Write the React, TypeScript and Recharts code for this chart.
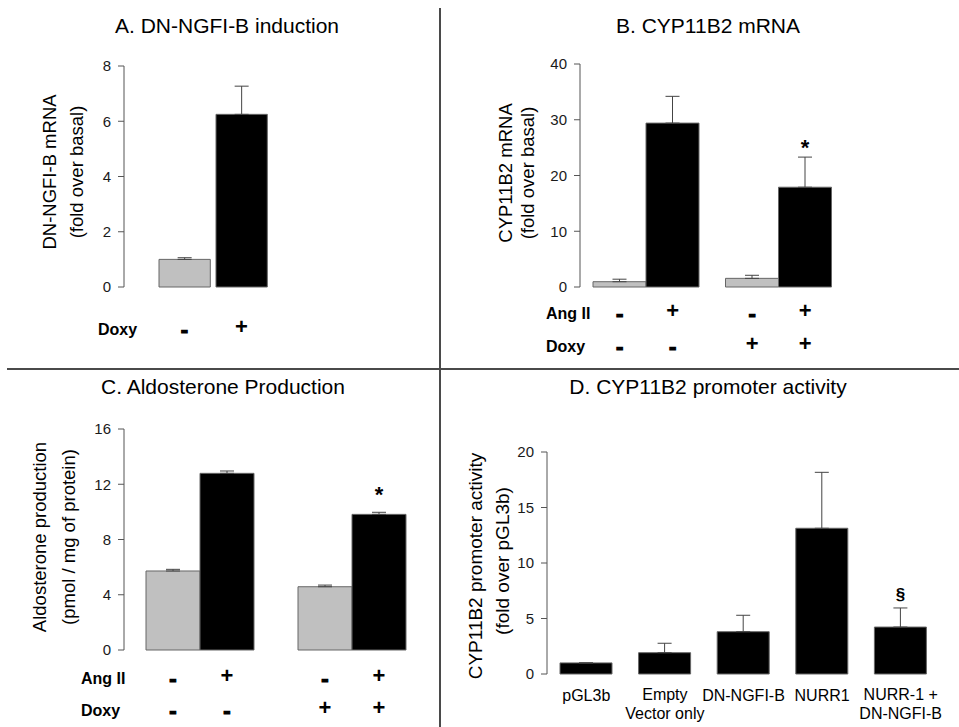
import { Bar, BarChart, Cell, ErrorBar, LabelList, XAxis, YAxis } from "recharts";

const FONT = "'Liberation Sans', Arial, Helvetica, sans-serif";
const GRAY = "#c0c0c0";
const AXIS = "#555";

// A. DN-NGFI-B induction
const doxyA = ["-", "+"];
const mrnaA = [1.0, 6.25];
const mrnaErrA = [0.06, 1.02];
const ticksA = [0, 2, 4, 6, 8];

// B. CYP11B2 mRNA  (bars in order: basal/AngII for Doxy -, then Doxy +)
const angRowB = ["-", "+", "-", "+"];
const doxyRowB = ["-", "-", "+", "+"];
const basalB = [0.95, 1.55];
const basalErrB = [0.45, 0.55];
const angIIB = [29.4, 17.9];
const angIIErrB = [4.8, 5.4];
const sigB = ["", "*"];
const ticksB = [0, 10, 20, 30, 40];

// C. Aldosterone production
const angRowC = ["-", "+", "-", "+"];
const doxyRowC = ["-", "-", "+", "+"];
const basalC = [5.72, 4.58];
const basalErrC = [0.12, 0.12];
const angIIC = [12.79, 9.82];
const angIIErrC = [0.17, 0.15];
const sigC = ["", "*"];
const ticksC = [0, 4, 8, 12, 16];

// D. CYP11B2 promoter activity
const constructsD = ["pGL3b", "Empty\nVector only", "DN-NGFI-B", "NURR1", "NURR-1 +\nDN-NGFI-B"];
const activityD = [1.0, 1.92, 3.81, 13.13, 4.23];
const activityErrD = [0, 0.85, 1.48, 5.04, 1.72];
const sigD = ["", "", "", "", "§"];
const ticksD = [0, 5, 10, 15, 20];

const dataA = doxyA.map((d, i) => ({ doxy: d, value: mrnaA[i], err: [0, mrnaErrA[i]] }));
const pairData = (basal: number[], basalErr: number[], ang: number[], angErr: number[]) =>
  basal.map((b, i) => ({
    group: "g" + i,
    basal: b,
    basalErr: [0, basalErr[i]],
    ang: ang[i],
    angErr: [0, angErr[i]],
  }));
const dataB = pairData(basalB, basalErrB, angIIB, angIIErrB);
const dataC = pairData(basalC, basalErrC, angIIC, angIIErrC);
const dataD = constructsD.map((n, i) => ({ name: n, value: activityD[i], err: [0, activityErrD[i]] }));

// the minus of the original is a thick short bar: bold hyphen with a thin outline
const Mark = ({ x, y, s }: { x: number; y: number; s: string }) => (
  <text
    x={x}
    y={y}
    dy={s === "-" ? 3 : 0}
    textAnchor="middle"
    dominantBaseline="central"
    fontFamily={FONT}
    fontWeight="bold"
    fontSize={22}
    fill="#000"
    stroke={s === "-" ? "#000" : "none"}
    strokeWidth={1.2}
  >
    {s}
  </text>
);

const RowLabel = ({ x, y, text }: { x: number; y: number; text: string }) => (
  <text x={x} y={y} dominantBaseline="central" fontFamily={FONT} fontWeight="bold" fontSize={16} fill="#000">
    {text}
  </text>
);

const Title = ({ x, y, text }: { x: number; y: number; text: string }) => (
  <text x={x} y={y} textAnchor="middle" fontFamily={FONT} fontSize={21} fill="#000">
    {text}
  </text>
);

const YLabel = ({ x, y, text, size = 18.5 }: { x: number; y: number; text: string; size?: number }) => (
  <text
    transform={`translate(${x},${y}) rotate(-90)`}
    textAnchor="middle"
    dominantBaseline="central"
    fontFamily={FONT}
    fontSize={size}
    fill="#000"
  >
    {text}
  </text>
);

const pairTick = (ang: string[], doxy: string[], half: number, row1: number, row2: number) => (props: any) => {
  const { x, y, payload } = props;
  const i = props.index ?? payload.index;
  return (
    <g>
      {[0, 1].map((k) => {
        const cx = x + (k === 0 ? -half : half);
        return (
          <g key={k}>
            <Mark x={cx} y={y + row1} s={ang[i * 2 + k]} />
            <Mark x={cx} y={y + row2} s={doxy[i * 2 + k]} />
          </g>
        );
      })}
    </g>
  );
};

const sigLabel = (marks: string[], errs: number[], lift: number, size: number) => (props: any) => {
  const { x, y, width, height, value, index } = props;
  const m = marks[index];
  if (!m) return null;
  const top = Number(y) - (errs[index] * Number(height)) / Number(value);
  return (
    <text
      key={"sig" + index}
      x={Number(x) + Number(width) / 2}
      y={top - lift}
      textAnchor="middle"
      dominantBaseline="central"
      fontFamily={FONT}
      fontWeight="bold"
      fontSize={size}
      fill="#000"
    >
      {m}
    </text>
  );
};

const yAxisProps = {
  axisLine: { stroke: AXIS },
  tickLine: { stroke: AXIS },
  tickSize: 6,
  tickMargin: 7,
  interval: 0 as const,
  width: 60,
  tick: { fill: "#1a1a1a", fontSize: 15, fontFamily: FONT },
};

const errProps = { width: 7, stroke: "#444", strokeWidth: 1, direction: "y" as const };

export default function App() {
  return (
    <div style={{ position: "absolute", left: 0, top: 0, width: 959, height: 727, background: "#fff", overflow: "hidden" }}>
      <div style={{ position: "absolute", left: 0, top: 0 }}>
        <BarChart width={440} height={368} data={dataA} margin={{ top: 66, right: 170, bottom: 21, left: 64 }} barCategoryGap={0} barGap={0}>
          <YAxis domain={[0, 8]} ticks={ticksA} {...yAxisProps} />
          <XAxis
            dataKey="doxy"
            axisLine={false}
            tickLine={false}
            tickSize={0}
            tickMargin={0}
            height={60}
            interval={0}
            padding={{ left: 32, right: 0 }}
            tick={(p: any) => <Mark x={p.x} y={p.y + 39} s={p.payload.value} />}
          />
          <Bar dataKey="value" barSize={57} stroke="#666" strokeWidth={1} isAnimationActive={false}>
            {dataA.map((d, i) => (
              <Cell key={d.doxy} fill={i === 0 ? GRAY : "#000"} />
            ))}
            <ErrorBar dataKey="err" {...errProps} />
          </Bar>
          <Title x={227} y={33} text="A. DN-NGFI-B induction" />
          <YLabel x={49} y={172} text="DN-NGFI-B mRNA" />
          <YLabel x={76} y={172} text="(fold over basal)" />
          <RowLabel x={98} y={329} text="Doxy" />
        </BarChart>
      </div>

      <div style={{ position: "absolute", left: 440, top: 0 }}>
        <BarChart width={519} height={368} data={dataB} margin={{ top: 64, right: 114, bottom: 21, left: 80 }} barGap={0}>
          <YAxis domain={[0, 40]} ticks={ticksB} {...yAxisProps} />
          <XAxis
            dataKey="group"
            axisLine={false}
            tickLine={false}
            tickSize={0}
            tickMargin={0}
            height={60}
            interval={0}
            tick={pairTick(angRowB, doxyRowB, 26.5, 23, 56)}
          />
          <Bar dataKey="basal" barSize={53} fill={GRAY} stroke="#666" strokeWidth={1} isAnimationActive={false}>
            <ErrorBar dataKey="basalErr" {...errProps} />
          </Bar>
          <Bar dataKey="ang" barSize={53} fill="#000" stroke="#666" strokeWidth={1} isAnimationActive={false}>
            <ErrorBar dataKey="angErr" {...errProps} />
            <LabelList dataKey="ang" content={sigLabel(sigB, angIIErrB, 10, 22)} />
          </Bar>
          <Title x={268} y={33} text="B. CYP11B2 mRNA" />
          <YLabel x={65} y={173} text="CYP11B2 mRNA" />
          <YLabel x={87} y={173} text="(fold over basal)" />
          <RowLabel x={106} y={313} text="Ang II" />
          <RowLabel x={106} y={346} text="Doxy" />
        </BarChart>
      </div>

      <div style={{ position: "absolute", left: 0, top: 368 }}>
        <BarChart width={440} height={359} data={dataC} margin={{ top: 61, right: 12, bottom: 17, left: 64 }} barGap={0}>
          <YAxis domain={[0, 16]} ticks={ticksC} {...yAxisProps} />
          <XAxis
            dataKey="group"
            axisLine={false}
            tickLine={false}
            tickSize={0}
            tickMargin={0}
            height={60}
            interval={0}
            tick={pairTick(angRowC, doxyRowC, 27, 25, 57)}
          />
          <Bar dataKey="basal" barSize={54} fill={GRAY} stroke="#666" strokeWidth={1} isAnimationActive={false}>
            <ErrorBar dataKey="basalErr" {...errProps} />
          </Bar>
          <Bar dataKey="ang" barSize={54} fill="#000" stroke="#666" strokeWidth={1} isAnimationActive={false}>
            <ErrorBar dataKey="angErr" {...errProps} />
            <LabelList dataKey="ang" content={sigLabel(sigC, angIIErrC, 18, 22)} />
          </Bar>
          <Title x={223} y={26} text="C. Aldosterone Production" />
          <YLabel x={39} y={169} text="Aldosterone production" />
          <YLabel x={68} y={169} text="(pmol / mg of protein)" />
          <RowLabel x={81} y={310} text="Ang II" />
          <RowLabel x={81} y={342} text="Doxy" />
        </BarChart>
      </div>

      <div style={{ position: "absolute", left: 440, top: 368 }}>
        <BarChart width={519} height={359} data={dataD} margin={{ top: 84, right: 19, bottom: 3, left: 47 }}>
          <YAxis domain={[0, 20]} ticks={ticksD} {...yAxisProps} />
          <XAxis
            dataKey="name"
            axisLine={false}
            tickLine={false}
            tickSize={0}
            tickMargin={0}
            height={50}
            interval={0}
            tick={(p: any) => {
              const lines = String(p.payload.value).split("\n");
              return (
                <text textAnchor="middle" fontFamily={FONT} fontSize={16} fill="#000">
                  {lines.map((l, k) => (
                    <tspan key={k} x={p.x} y={p.y + (lines.length > 1 ? 26 + k * 19 : 27)}>
                      {l}
                    </tspan>
                  ))}
                </text>
              );
            }}
          />
          <Bar dataKey="value" barSize={52} fill="#000" stroke="#666" strokeWidth={1} isAnimationActive={false}>
            <ErrorBar dataKey="err" {...errProps} />
            <LabelList dataKey="value" content={sigLabel(sigD, activityErrD, 13, 17)} />
          </Bar>
          <Title x={268} y={26} text="D. CYP11B2 promoter activity" />
          <YLabel x={35} y={198} text="CYP11B2 promoter activity" size={19} />
          <YLabel x={62} y={193} text="(fold over pGL3b)" size={19} />
        </BarChart>
      </div>

      <div style={{ position: "absolute", left: 439, top: 8, width: 2, height: 719, background: "#4a4a4a" }} />
      <div style={{ position: "absolute", left: 7, top: 368, width: 952, height: 2, background: "#4a4a4a" }} />
    </div>
  );
}
